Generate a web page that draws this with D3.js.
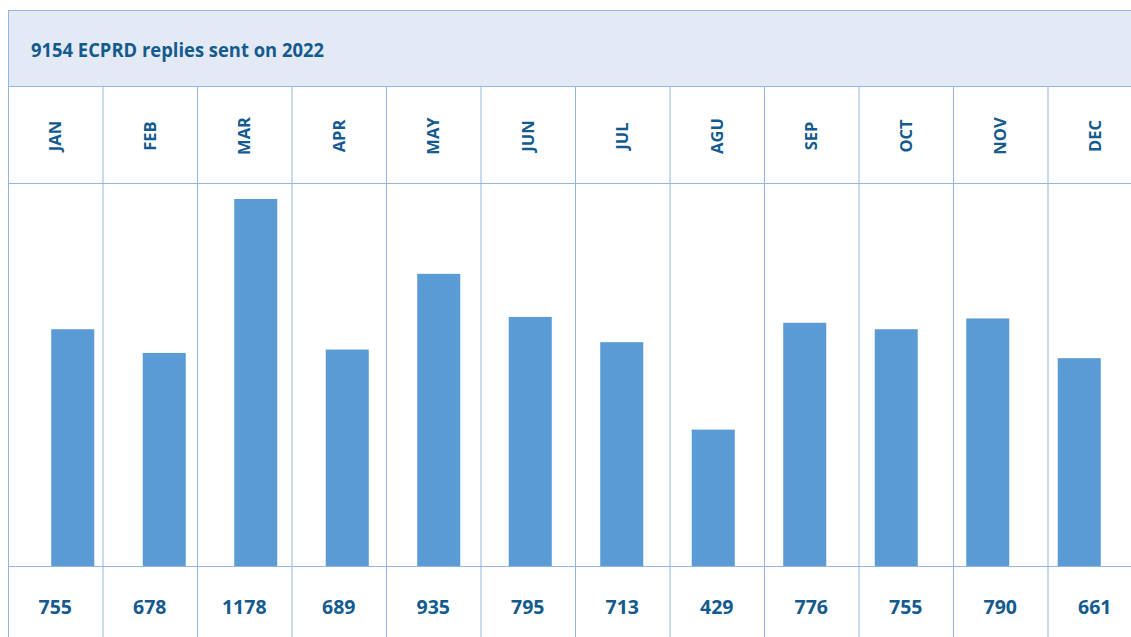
<!DOCTYPE html>
<html>
<head>
<meta charset="utf-8">
<script src="https://cdn.jsdelivr.net/npm/d3@7"></script>
<style>
  body { margin: 0; background: #fff; }
  text { font-family: "Open Sans", "Noto Sans", sans-serif; font-weight: 700; fill: #135a8e; }
</style>
</head>
<body>
<svg width="1131" height="637"></svg>
<script>
const title = "9154 ECPRD replies sent on 2022";
const months = ["JAN", "FEB", "MAR", "APR", "MAY", "JUN", "JUL", "AGU", "SEP", "OCT", "NOV", "DEC"];
const replies = [755, 678, 1178, 689, 935, 795, 713, 429, 776, 755, 790, 661];

const svg = d3.select("svg");
const lineColor = "#93b7df";

const gridLeft = 8, colW = 94.5;
const gridTop = 10, headBottom = 86, monthBottom = 183, plotBottom = 566, gridBottom = 640;

// table columns
const col = d3.scaleBand()
    .domain(months)
    .range([gridLeft, gridLeft + colW * months.length]);

// bars sit on their own band scale (slightly narrower spacing than the grid)
const x = d3.scaleBand()
    .domain(months)
    .range([27, 1125])
    .paddingInner(0.53)
    .paddingOuter(0.265);

const y = d3.scaleLinear()
    .domain([-14, d3.max(replies)])
    .range([plotBottom, 199]);

// header band
svg.append("rect")
    .attr("x", gridLeft + 0.5).attr("y", gridTop + 0.5)
    .attr("width", 1131).attr("height", headBottom - gridTop)
    .attr("fill", "#e3eaf6")
    .attr("stroke", lineColor);

svg.append("text")
    .attr("x", 31).attr("y", 57)
    .attr("font-size", 19.5)
    .attr("textLength", 293)
    .attr("lengthAdjust", "spacingAndGlyphs")
    .text(title);

// bars
svg.selectAll(".bar")
    .data(months)
    .enter()
    .append("rect")
    .attr("class", "bar")
    .attr("x", d => x(d))
    .attr("width", x.bandwidth())
    .attr("y", (d, i) => y(replies[i]))
    .attr("height", (d, i) => plotBottom - y(replies[i]))
    .attr("fill", "#5b9bd5");

// grid lines
const g = svg.append("g").attr("stroke", lineColor).attr("stroke-width", 1);
months.forEach(m => {
    g.append("line")
        .attr("x1", col(m) + 0.5).attr("x2", col(m) + 0.5)
        .attr("y1", headBottom).attr("y2", gridBottom);
});
[headBottom, monthBottom, plotBottom].forEach(h => {
    g.append("line")
        .attr("x1", gridLeft).attr("x2", 1131)
        .attr("y1", h + 0.5).attr("y2", h + 0.5);
});

// month labels
svg.selectAll(".month")
    .data(months)
    .enter()
    .append("text")
    .attr("class", "month")
    .attr("transform", d => `translate(${col(d) + col.bandwidth() / 2 + 6},136) rotate(-90)`)
    .attr("text-anchor", "middle")
    .attr("font-size", 16.5)
    .text(d => d);

// values
svg.selectAll(".val")
    .data(replies)
    .enter()
    .append("text")
    .attr("class", "val")
    .attr("x", (d, i) => col(months[i]) + col.bandwidth() / 2)
    .attr("y", 614)
    .attr("text-anchor", "middle")
    .attr("font-size", 19.5)
    .text(d => d);
</script>
</body>
</html>
